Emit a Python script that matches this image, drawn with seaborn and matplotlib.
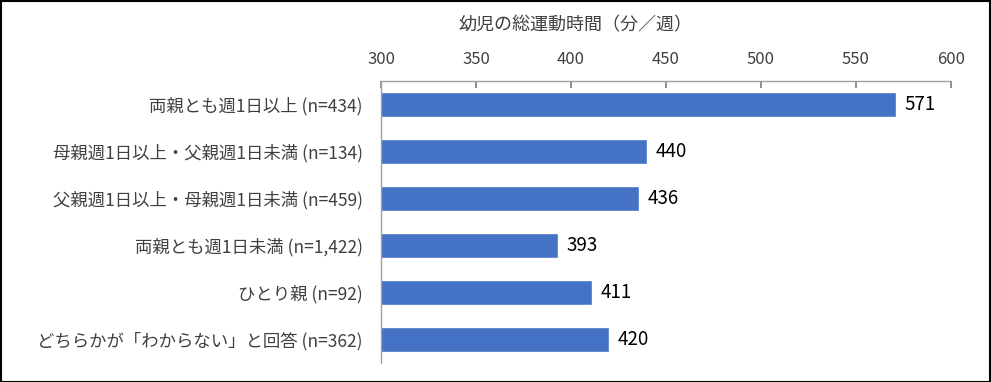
import matplotlib
matplotlib.use("Agg")
import matplotlib.pyplot as plt
import seaborn as sns
import pandas as pd

categories = [
    "両親とも週1日以上 (n=434)",
    "母親週1日以上・父親週1日未満 (n=134)",
    "父親週1日以上・母親週1日未満 (n=459)",
    "両親とも週1日未満 (n=1,422)",
    "ひとり親 (n=92)",
    "どちらかが「わからない」と回答 (n=362)",
]
values = [571, 440, 436, 393, 411, 420]
xticks = [300, 350, 400, 450, 500, 550, 600]
title = "幼児の総運動時間（分／週）"

sns.set_theme(style="white")
plt.rcParams['font.family'] = ['Noto Sans CJK JP', 'DejaVu Sans']

df = pd.DataFrame({"cat": categories, "val": values})

fig = plt.figure(figsize=(9.91, 3.82), dpi=100)
ax = fig.add_axes([0.3845, 0.0497, 0.5751, 0.7383])
sns.barplot(data=df, y="cat", x="val", orient="h", color="#4472C4",
            saturation=1, width=0.55, ax=ax)

ax.set_xlim(300, 600)
ax.set_ylim(5.5, -0.5)
ax.set_xticks(xticks)
ax.xaxis.tick_top()
ax.xaxis.set_label_position("top")
ax.set_xlabel(title, fontsize=13, color="#404040", labelpad=15)
ax.xaxis.label.set_x(0.342)
ax.set_ylabel("")
ax.tick_params(axis="x", direction="in", length=5, color="#808080",
               labelsize=12, labelcolor="#404040", pad=9, top=True, bottom=False)
ax.tick_params(axis="y", length=0, labelsize=12.5, labelcolor="#404040", pad=13)
for s in ["right", "bottom"]:
    ax.spines[s].set_visible(False)
for s in ["top", "left"]:
    ax.spines[s].set_color("#a0a0a0")
    ax.spines[s].set_linewidth(1)

for c in ax.containers:
    ax.bar_label(c, fmt="%d", padding=6, fontsize=13.5, color="#000000")

border = plt.Rectangle((0.001, 0.001), 0.998, 0.997, transform=fig.transFigure,
                       fill=False, edgecolor="black", linewidth=1.5)
fig.patches.append(border)

fig.savefig("out.png", dpi=100)
